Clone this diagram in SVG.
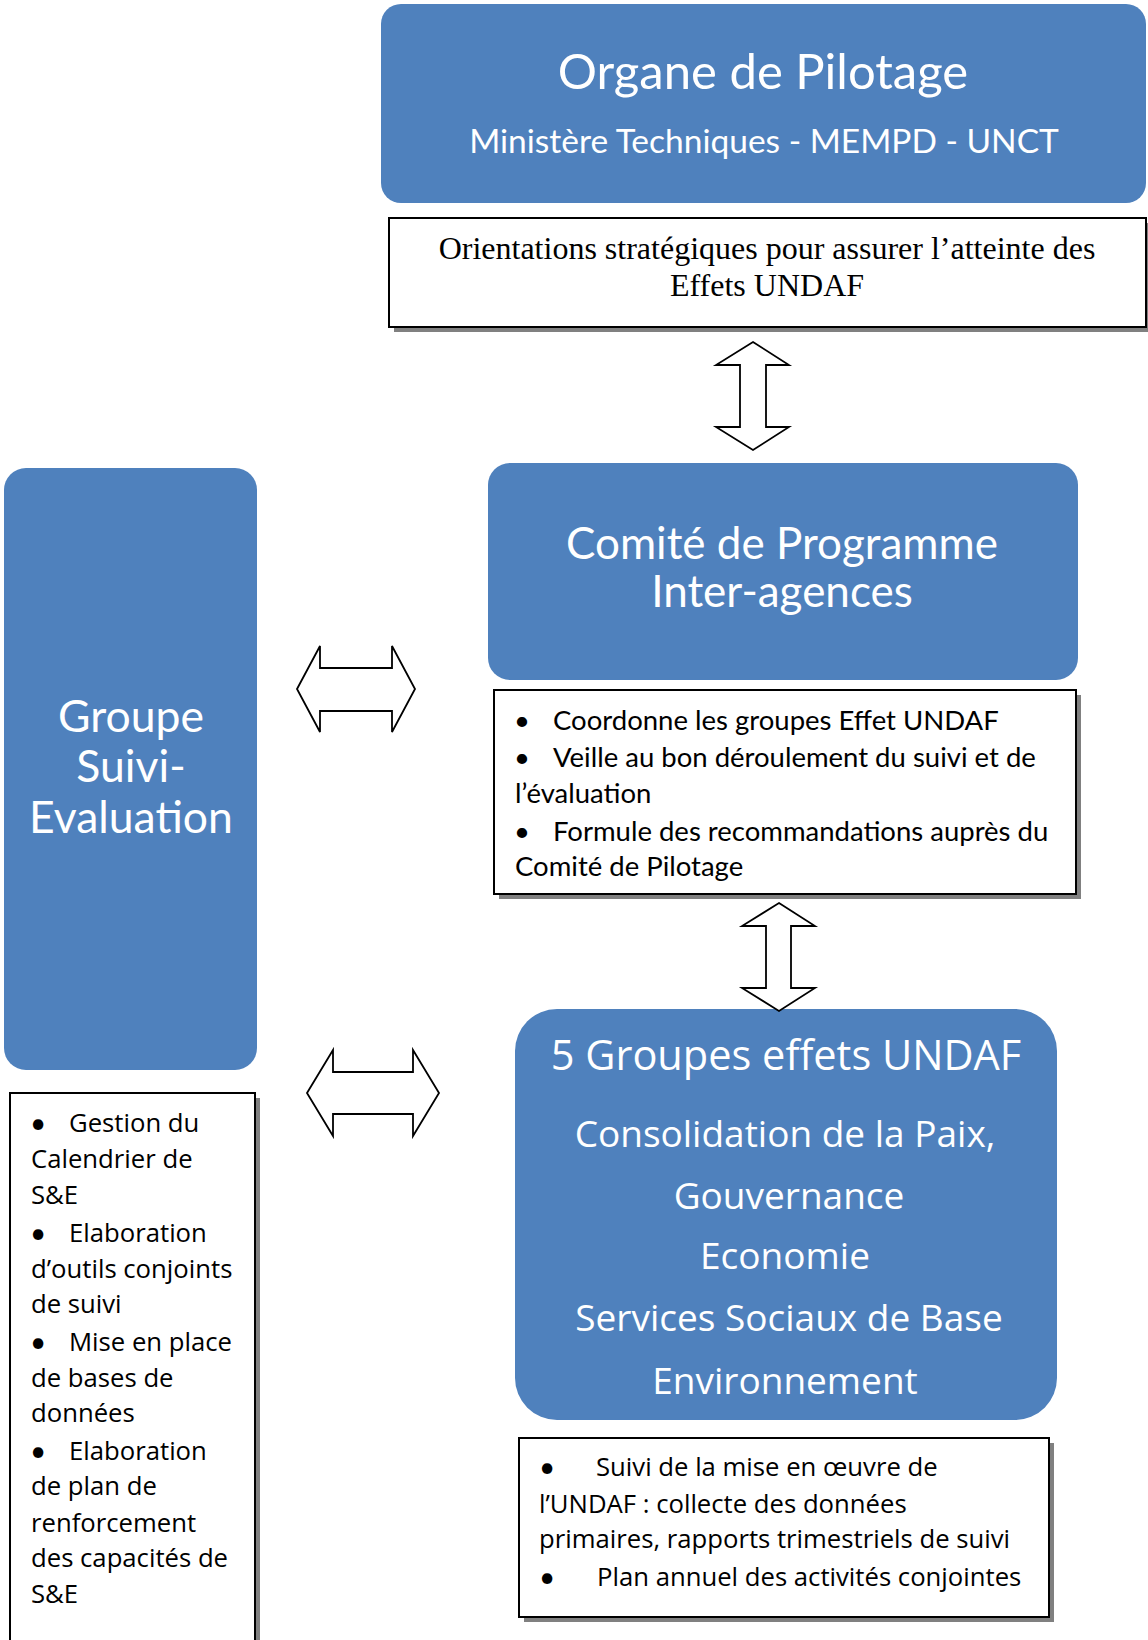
<svg xmlns="http://www.w3.org/2000/svg" width="1148" height="1640" viewBox="0 0 1148 1640">
<style>
.blue{fill:#4F81BD;}
.box{fill:#fff;stroke:#000;stroke-width:2;}
.shadow{fill:#808080;}
.arrow{fill:#fff;stroke:#000;stroke-width:1.8;stroke-linejoin:miter;}
.ttl{font-family:Lato,"Liberation Sans",sans-serif;fill:#fff;text-anchor:middle;}
.gs{font-family:"Open Sans",Lato,sans-serif;fill:#fff;text-anchor:middle;}
.bl{font-family:Lato,"Liberation Sans",sans-serif;fill:#000;font-size:27.5px;}
.bw{font-family:"Open Sans",Lato,sans-serif;fill:#000;font-size:25.7px;}
.bu{font-family:Lato,"Liberation Sans",sans-serif;font-size:28px;}
.ser{font-family:"Liberation Serif",serif;fill:#000;font-size:32px;text-anchor:middle;}
</style>
<rect width="1148" height="1640" fill="#fff"/>

<g id="organe">
<rect class="blue" x="381" y="4" width="765" height="199" rx="20"/>
<text class="ttl" x="763" y="89" font-size="49">Organe de Pilotage</text>
<text class="ttl" x="764" y="153" font-size="33.5">Ministère Techniques  - MEMPD - UNCT</text>
</g>

<g id="orientations">
<rect class="shadow" x="394" y="223" width="757" height="109"/>
<rect class="box" x="389" y="218" width="757" height="109"/>
<text class="ser" x="767" y="259">Orientations stratégiques pour assurer l’atteinte des</text>
<text class="ser" x="767" y="296">Effets UNDAF</text>
</g>

<g id="comite">
<rect class="blue" x="488" y="463" width="590" height="217" rx="22"/>
<text class="ttl" x="782" y="559" font-size="44">Comité de Programme</text>
<text class="ttl" x="782" y="607" font-size="44">Inter-agences</text>
</g>

<g id="comite-roles">
<rect class="shadow" x="499" y="695" width="582" height="204"/>
<rect class="box" x="494" y="690" width="582" height="204"/>
<text class="bl"><tspan x="514" y="730">•</tspan><tspan x="553" y="730">Coordonne les groupes Effet UNDAF</tspan></text>
<text class="bl"><tspan x="514" y="767">•</tspan><tspan x="553" y="767">Veille au bon déroulement du suivi et de</tspan></text>
<text class="bl" x="515" y="803">l’évaluation</text>
<text class="bl"><tspan x="514" y="841">•</tspan><tspan x="553" y="841">Formule des recommandations auprès du</tspan></text>
<text class="bl" x="515" y="876">Comité de Pilotage</text>
</g>

<g id="groupes-effets">
<rect class="blue" x="515" y="1009" width="542" height="411" rx="42"/>
<text class="gs" x="786" y="1070" font-size="41.5">5 Groupes effets UNDAF</text>
<text class="gs" x="785" y="1147" font-size="37">Consolidation de la Paix,</text>
<text class="gs" x="789" y="1209" font-size="37">Gouvernance</text>
<text class="gs" x="785" y="1269" font-size="37">Economie</text>
<text class="gs" x="789" y="1331" font-size="37">Services Sociaux de Base</text>
<text class="gs" x="785" y="1394" font-size="37">Environnement</text>
</g>

<g id="groupes-roles">
<rect class="shadow" x="524" y="1443" width="530" height="179"/>
<rect class="box" x="519" y="1438" width="530" height="179"/>
<text class="bw"><tspan class="bu" x="539" y="1477">•</tspan><tspan x="596" y="1476">Suivi de la mise en œuvre de</tspan></text>
<text class="bw" x="539" y="1513">l’UNDAF : collecte des données</text>
<text class="bw" x="539" y="1548">primaires, rapports trimestriels de suivi</text>
<text class="bw"><tspan class="bu" x="539" y="1587">•</tspan><tspan x="597" y="1586">Plan annuel des activités conjointes</tspan></text>
</g>

<g id="suivi-evaluation">
<rect class="blue" x="4" y="468" width="253" height="602" rx="22"/>
<text class="ttl" x="131" y="732" font-size="44.5">Groupe</text>
<text class="ttl" x="131" y="782" font-size="44.5">Suivi-</text>
<text class="ttl" x="131" y="833" font-size="44.5">Evaluation</text>
</g>

<g id="suivi-roles">
<rect class="shadow" x="15" y="1098" width="245" height="560"/>
<rect class="box" x="10" y="1093" width="245" height="560"/>
<text class="bw"><tspan class="bu" x="30" y="1133">•</tspan><tspan x="69" y="1132">Gestion du</tspan></text>
<text class="bw" x="31" y="1168">Calendrier de</text>
<text class="bw" x="31" y="1204">S&amp;E</text>
<text class="bw"><tspan class="bu" x="30" y="1243">•</tspan><tspan x="69" y="1242">Elaboration</tspan></text>
<text class="bw" x="31" y="1278">d’outils conjoints</text>
<text class="bw" x="31" y="1313">de suivi</text>
<text class="bw"><tspan class="bu" x="30" y="1352">•</tspan><tspan x="69" y="1351">Mise en place</tspan></text>
<text class="bw" x="31" y="1387">de bases de</text>
<text class="bw" x="31" y="1422">données</text>
<text class="bw"><tspan class="bu" x="30" y="1461">•</tspan><tspan x="69" y="1460">Elaboration</tspan></text>
<text class="bw" x="31" y="1495">de plan de</text>
<text class="bw" x="31" y="1532">renforcement</text>
<text class="bw" x="31" y="1567">des capacités de</text>
<text class="bw" x="31" y="1603">S&amp;E</text>
</g>

<g id="connectors">
<polygon class="arrow" points="753,342 789,365 766,365 766,427 789,427 753,450 716,427 740,427 740,365 716,365"/>
<polygon class="arrow" points="779,903 815,926 791,926 791,988 815,988 779,1011 742,988 766,988 766,926 742,926"/>
<polygon class="arrow" points="297,689 320,646 320,668 392,668 392,646 415,689 392,732 392,711 320,711 320,732"/>
<polygon class="arrow" points="307,1093 333,1050 333,1072 413,1072 413,1050 439,1093 413,1136 413,1114 333,1114 333,1136"/>
</g>
</svg>
